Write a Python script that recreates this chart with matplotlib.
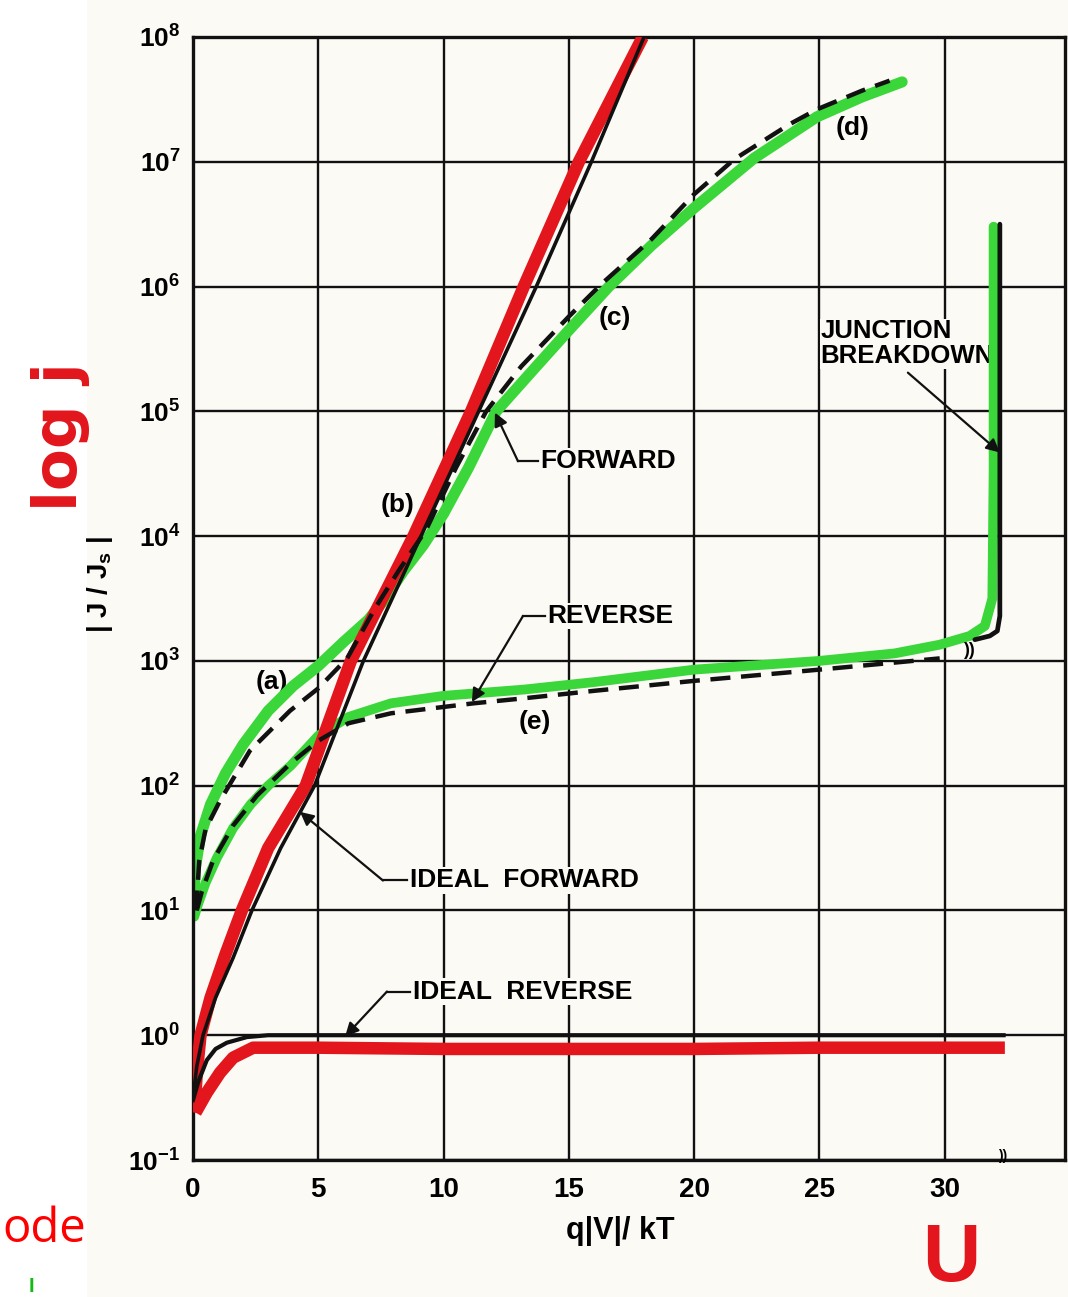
import matplotlib
matplotlib.use("Agg")
import matplotlib.pyplot as plt
import numpy as np
from matplotlib.patches import Rectangle
from matplotlib.ticker import NullLocator

plt.rcParams["font.family"] = ["Liberation Sans", "DejaVu Sans"]

# --- data: V = q|V|/kT, values are log10 |J/Js| ---
ideal_fwd_v = [0.0, 0.15, 0.4, 0.9, 1.6, 2.35, 3.5, 4.85, 6.8, 9.1, 11.4, 13.7, 15.9, 18.0]
ideal_fwd_log = [-0.5, -0.25, 0.0, 0.3, 0.62, 1.0, 1.5, 2.0, 3.0, 4.0, 5.0, 6.0, 7.0, 8.0]

ideal_rev_v = [0.0, 0.2, 0.55, 0.9, 1.35, 2.15, 3.0, 32.35]
ideal_rev_log = [-0.52, -0.38, -0.2, -0.11, -0.06, -0.015, 0.0, 0.0]

red_fwd_v = [0.05, 0.15, 0.3, 0.7, 1.3, 1.95, 3.0, 4.5, 6.3, 8.8, 11.1, 13.2, 15.4, 17.95]
red_fwd_log = [-0.62, -0.3, 0.0, 0.3, 0.65, 1.0, 1.5, 2.0, 3.0, 4.0, 5.0, 6.0, 7.0, 8.0]

red_rev_v = [0.1, 0.55, 1.08, 1.6, 2.4, 5.0, 10.0, 15.0, 20.0, 25.0, 30.0, 32.4]
red_rev_log = [-0.62, -0.46, -0.3, -0.18, -0.1, -0.1, -0.11, -0.11, -0.11, -0.1, -0.1, -0.1]

green_fwd_v = [0.0, 0.1, 0.3, 0.7, 1.3, 2.0, 3.0, 4.0, 5.0, 6.0, 7.0, 7.6, 8.4, 9.2, 10.0,
               11.0, 12.1, 13.7, 15.0, 16.6, 18.3, 20.0, 22.4, 24.9, 26.7, 28.3]
green_fwd_log = [1.0, 1.35, 1.6, 1.85, 2.1, 2.33, 2.6, 2.8, 2.96, 3.15, 3.33, 3.48, 3.72, 3.93, 4.18,
                 4.55, 5.0, 5.36, 5.65, 6.0, 6.33, 6.63, 7.03, 7.36, 7.52, 7.64]

dash_fwd_v = [0.12, 0.25, 0.5, 1.08, 2.27, 3.87, 5.0, 6.15, 7.26, 8.2, 9.3, 10.5, 11.7, 13.1,
              15.0, 16.3, 18.3, 20.0, 21.6, 23.8, 24.9, 26.7, 27.8]
dash_fwd_log = [1.0, 1.4, 1.65, 1.88, 2.28, 2.6, 2.78, 3.02, 3.42, 3.72, 4.05, 4.55, 5.0, 5.36,
                5.76, 6.02, 6.38, 6.74, 7.02, 7.3, 7.42, 7.57, 7.65]

green_rev_v = [0.05, 0.2, 0.5, 0.95, 1.6, 2.3, 3.0, 3.9, 5.0, 6.2, 7.9, 10.0, 13.2, 16.0, 20.0,
               25.0, 28.0, 29.8, 31.0, 31.6, 31.9, 31.95, 31.95]
green_rev_log = [0.95, 1.05, 1.22, 1.42, 1.66, 1.85, 2.0, 2.16, 2.4, 2.55, 2.66, 2.72, 2.77, 2.83, 2.93,
                 3.0, 3.06, 3.13, 3.2, 3.28, 3.5, 4.5, 6.48]

dash_rev_v = [0.15, 0.35, 0.8, 1.2, 1.6, 2.55, 3.9, 5.0, 6.2, 7.9, 11.2, 13.2, 16.0, 20.0, 25.0, 29.8]
dash_rev_log = [1.0, 1.15, 1.4, 1.54, 1.68, 1.92, 2.18, 2.36, 2.5, 2.58, 2.66, 2.7, 2.76, 2.84, 2.93, 3.02]

breakdown_v = [31.2, 31.8, 32.1, 32.2, 32.2]
breakdown_log = [3.17, 3.2, 3.24, 3.36, 6.5]

x_ticks = [0, 5, 10, 15, 20, 25, 30]
y_exps = list(range(-1, 9))

PAPER = "#fcfaf4"
RED = "#e2161c"
GREEN = "#3ad63a"
INK = "#111111"

fig = plt.figure(figsize=(10.68, 12.97), dpi=100)
fig.patch.set_facecolor("white")
fig.patches.append(Rectangle((87 / 1068, 0), 1, 1, transform=fig.transFigure,
                             facecolor=PAPER, edgecolor="none", zorder=-10))

ax = fig.add_axes([193 / 1068, 1 - 1160 / 1297, 872 / 1068, 1123 / 1297])
ax.set_facecolor(PAPER)
ax.set_yscale("log")
ax.set_xlim(0, 34.8)
ax.set_ylim(1e-1, 1e8)
ax.yaxis.set_minor_locator(NullLocator())
ax.set_xticks(x_ticks)
ax.set_xticklabels([str(t) for t in x_ticks], fontsize=20, fontweight="bold")
ax.set_yticks([10.0 ** k for k in y_exps])
ax.set_yticklabels([rf"$\mathregular{{10^{{{k}}}}}$" for k in y_exps], fontsize=19, fontweight="bold")
ax.tick_params(length=0, pad=9)
ax.tick_params(axis="x", pad=12)
ax.grid(True, color=INK, lw=1.7)
for sp in ax.spines.values():
    sp.set_linewidth(2.4)
    sp.set_color(INK)


def J(vals):
    return 10.0 ** np.asarray(vals)


# hand-coloured overlays
ax.plot(green_fwd_v, J(green_fwd_log), color=GREEN, lw=8, solid_capstyle="round",
        solid_joinstyle="round", zorder=2)
ax.plot(green_rev_v, J(green_rev_log), color=GREEN, lw=7, solid_capstyle="round",
        solid_joinstyle="round", zorder=2)
ax.plot(red_fwd_v, J(red_fwd_log), color=RED, lw=9, solid_capstyle="butt", zorder=3)
ax.plot(red_rev_v, J(red_rev_log), color=RED, lw=9, solid_capstyle="butt", zorder=3)

# printed curves
ax.plot(ideal_fwd_v, J(ideal_fwd_log), color=INK, lw=2.6, zorder=4)
ax.plot(ideal_rev_v, J(ideal_rev_log), color=INK, lw=3.0, zorder=4)
ax.plot(dash_fwd_v, J(dash_fwd_log), color=INK, lw=3.2, dashes=(4.5, 2.4), zorder=4)
ax.plot(dash_rev_v, J(dash_rev_log), color=INK, lw=3.2, dashes=(4.5, 2.4), zorder=4)
ax.plot(breakdown_v, J(breakdown_log), color=INK, lw=3.4, solid_capstyle="round", zorder=4)

# curve letters (paper-coloured box hides the grid, sits under the ink)
letter_kw = dict(fontsize=19, fontweight="bold", ha="center", va="center", zorder=1.8,
                 bbox=dict(facecolor=PAPER, edgecolor="none", pad=0.5))
for s, v, lg in [("(a)", 3.15, 2.83), ("(b)", 8.18, 4.25), ("(c)", 16.84, 5.75),
                 ("(d)", 26.34, 7.27), ("(e)", 13.65, 2.51)]:
    ax.text(v, 10 ** lg, s, **letter_kw)

label_kw = dict(fontsize=19, fontweight="bold", ha="left", va="center", zorder=1.8,
                bbox=dict(facecolor=PAPER, edgecolor="none", pad=1.0))
arrow_kw = dict(arrowstyle="-|>", lw=1.6, color=INK, mutation_scale=20, shrinkA=0, shrinkB=0)


def leader(text, tx, tlg, kx, tip):
    ax.text(tx, 10 ** tlg, text, **label_kw)
    ax.plot([tx - 0.1, kx], [10 ** tlg, 10 ** tlg], color=INK, lw=1.6, zorder=5)
    ax.annotate("", xy=(tip[0], 10 ** tip[1]), xytext=(kx, 10 ** tlg), arrowprops=arrow_kw, zorder=5)


leader("FORWARD", 13.85, 4.6, 12.97, (12.05, 4.99))
leader("REVERSE", 14.13, 3.36, 13.17, (11.13, 2.67))
leader("IDEAL  FORWARD", 8.66, 1.24, 7.58, (4.27, 1.79))
leader("IDEAL  REVERSE", 8.78, 0.35, 7.74, (6.07, -0.01))

ax.text(25.05, 10 ** 5.54, "JUNCTION\nBREAKDOWN", fontsize=18.5, fontweight="bold", ha="left",
        va="center", linespacing=1.05, zorder=1.8,
        bbox=dict(facecolor=PAPER, edgecolor="none", pad=0.5))
ax.annotate("", xy=(32.2, 10 ** 4.67), xytext=(28.53, 10 ** 5.31), arrowprops=arrow_kw, zorder=5)

# axis-break marks
ax.text(30.95, 10 ** 3.08, "))", fontsize=13, fontweight="bold", ha="center", va="center", zorder=6)
ax.text(32.3, 10 ** -0.97, "))", fontsize=10, fontweight="bold", ha="center", va="center",
        zorder=6, clip_on=False)

ax.set_xlabel("q|V|/ kT", fontsize=22, fontweight="bold")
ax.xaxis.set_label_coords(0.49, -0.05)
ax.set_ylabel(r"| J / J$_{\mathregular{s}}$ |", fontsize=20, fontweight="bold")
ax.yaxis.set_label_coords(-0.089, 0.512)

# red/green handwriting on the scan
fig.text(60 / 1068, 1 - 437 / 1297, "log j", rotation=90, color=RED, fontsize=44,
         fontweight="bold", ha="center", va="center", family="DejaVu Sans")
fig.text(951 / 1068, 1 - 1222 / 1297, "U", color=RED, fontsize=58, fontweight="bold",
         ha="center", va="top", family="Liberation Sans")
fig.text(2 / 1068, 1 - 1242 / 1297, "ode", color="#ff0000", fontsize=34,
         ha="left", va="baseline", family="Open Sans")
fig.text(31 / 1068, 1 - 1296 / 1297, "l", color="#11bb11", fontsize=12, fontweight="bold",
         ha="center", va="bottom", family="DejaVu Sans")

fig.savefig("out.png", dpi=100, facecolor=fig.get_facecolor())
